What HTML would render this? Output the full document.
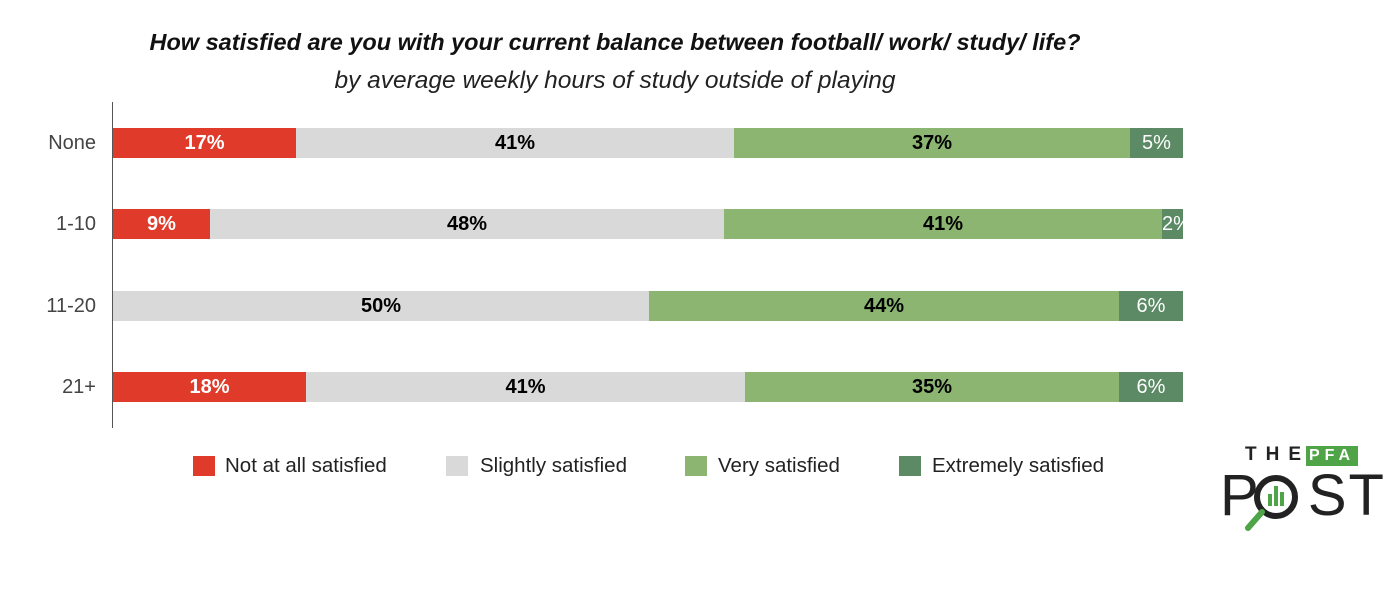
<!DOCTYPE html>
<html><head><style>
body{margin:0;width:1400px;height:596px;background:#fff;font-family:"Liberation Sans",sans-serif;position:relative;overflow:hidden}
.a{position:absolute}
.bar{position:absolute;height:30px;display:flex;align-items:center;justify-content:center;font-weight:bold;font-size:20px;overflow:hidden;white-space:nowrap}
.r{background:#df3a2a;color:#fff}.g{background:#d9d9d9;color:#000}.l{background:#8bb570;color:#000}.d{background:#5b8a65;color:#fff;font-weight:normal}
.cat{position:absolute;width:96px;text-align:right;left:0;font-size:20px;color:#444}
.lg{position:absolute;font-size:20.5px;color:#222;top:454px}
.sq{position:absolute;width:22px;height:20px;top:456px}
</style></head><body>
<div class="a" style="left:0;width:1230px;top:29px;text-align:center;font-weight:bold;font-style:italic;font-size:23.5px;color:#111">How satisfied are you with your current balance between football/ work/ study/ life?</div>
<div class="a" style="left:0;width:1230px;top:67px;text-align:center;font-style:italic;font-size:24.5px;color:#222">by average weekly hours of study outside of playing</div>
<div class="a" style="left:112px;top:102px;width:1px;height:326px;background:#555"></div>

<div class="cat" style="top:132px">None</div>
<div class="bar r" style="left:113px;width:183px;top:128px">17%</div>
<div class="bar g" style="left:296px;width:438px;top:128px">41%</div>
<div class="bar l" style="left:734px;width:396px;top:128px">37%</div>
<div class="bar d" style="left:1130px;width:53px;top:128px">5%</div>

<div class="cat" style="top:213px">1-10</div>
<div class="bar r" style="left:113px;width:97px;top:209px">9%</div>
<div class="bar g" style="left:210px;width:514px;top:209px">48%</div>
<div class="bar l" style="left:724px;width:438px;top:209px">41%</div>
<div class="bar d" style="left:1162px;width:21px;top:209px;justify-content:flex-start">2%</div>

<div class="cat" style="top:295px">11-20</div>
<div class="bar g" style="left:113px;width:536px;top:291px">50%</div>
<div class="bar l" style="left:649px;width:470px;top:291px">44%</div>
<div class="bar d" style="left:1119px;width:64px;top:291px">6%</div>

<div class="cat" style="top:376px">21+</div>
<div class="bar r" style="left:113px;width:193px;top:372px">18%</div>
<div class="bar g" style="left:306px;width:439px;top:372px">41%</div>
<div class="bar l" style="left:745px;width:374px;top:372px">35%</div>
<div class="bar d" style="left:1119px;width:64px;top:372px">6%</div>

<div class="sq" style="left:193px;background:#df3a2a"></div><div class="lg" style="left:225px">Not at all satisfied</div>
<div class="sq" style="left:446px;background:#d9d9d9"></div><div class="lg" style="left:480px">Slightly satisfied</div>
<div class="sq" style="left:685px;background:#8bb570"></div><div class="lg" style="left:718px">Very satisfied</div>
<div class="sq" style="left:899px;background:#5b8a65"></div><div class="lg" style="left:932px">Extremely satisfied</div>

<div class="a" style="left:1245px;top:444px;font-weight:bold;font-size:19px;letter-spacing:9px;color:#222">THE</div>
<div class="a" style="left:1306px;top:446px;width:52px;height:20px;background:#4fa447;color:#fff;font-weight:bold;font-size:16px;letter-spacing:5px;text-align:center;line-height:20px">PFA</div>
<div class="a" style="left:1220px;top:466px;font-size:58px;letter-spacing:2px;color:#222;line-height:60px">P<span style="color:#fff">O</span>ST</div>
<svg class="a" style="left:1240px;top:470px" width="70" height="70">
<circle cx="36" cy="27" r="19" fill="none" stroke="#222" stroke-width="6"/>
<rect x="28" y="24" width="4" height="12" fill="#4fa447"/><rect x="34" y="16" width="4" height="20" fill="#4fa447"/><rect x="40" y="22" width="4" height="14" fill="#4fa447"/>
<line x1="22" y1="42" x2="8" y2="58" stroke="#4fa447" stroke-width="6" stroke-linecap="round"/>
</svg>
</body></html>
